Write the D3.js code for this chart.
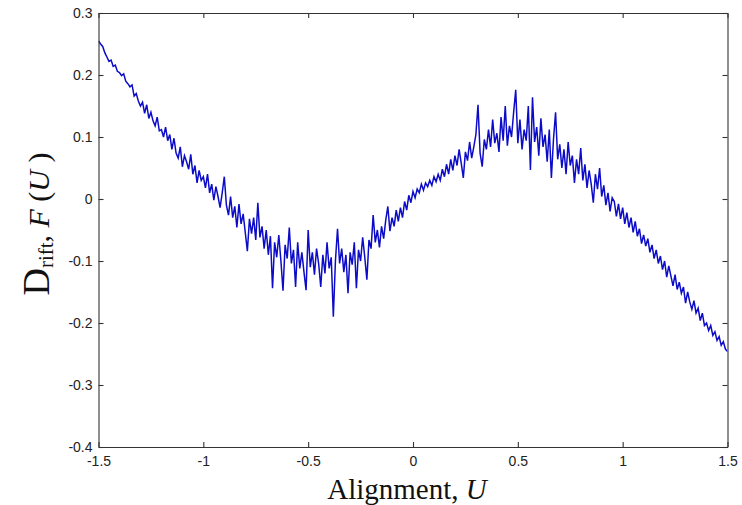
<!DOCTYPE html>
<html>
<head>
<meta charset="utf-8">
<script src="https://cdn.jsdelivr.net/npm/d3@7"></script>
<style>
  body { margin: 0; background: #fff; }
  svg { display: block; }
</style>
</head>
<body>
<svg id="chart" width="742" height="505"></svg>
<script>
// drift F(U), sampled every 0.01 in U, one array per half unit
const uStep = 0.01;
const segStarts = [-1.5, -1.0, -0.5, 0.0, 0.5, 1.0];

const driftA = [0.255, 0.250, 0.246, 0.236, 0.229, 0.222, 0.224, 0.214, 0.216, 0.206,
  0.204, 0.199, 0.202, 0.190, 0.186, 0.181, 0.184, 0.166, 0.170, 0.158,
  0.150, 0.156, 0.138, 0.152, 0.130, 0.140, 0.126, 0.118, 0.132, 0.110,
  0.112, 0.100, 0.116, 0.094, 0.104, 0.080, 0.098, 0.074, 0.066, 0.084,
  0.052, 0.070, 0.060, 0.048, 0.072, 0.040, 0.054, 0.026, 0.046, 0.030];

const driftB = [0.036, 0.018, 0.040, 0.010, 0.024, -0.002, 0.020, 0.004, -0.014, 0.010,
  0.036, -0.010, -0.026, 0.004, -0.030, -0.012, -0.046, -0.008, -0.040, -0.024,
  -0.054, -0.084, -0.032, -0.056, -0.030, -0.066, -0.006, -0.062, -0.044, -0.080,
  -0.050, -0.090, -0.060, -0.144, -0.070, -0.094, -0.058, -0.100, -0.148, -0.074,
  -0.096, -0.046, -0.104, -0.082, -0.142, -0.070, -0.112, -0.086, -0.118, -0.147];

const driftC = [-0.050, -0.110, -0.086, -0.122, -0.080, -0.104, -0.142, -0.090, -0.120, -0.070,
  -0.112, -0.094, -0.190, -0.100, -0.048, -0.104, -0.080, -0.118, -0.090, -0.152,
  -0.086, -0.106, -0.070, -0.144, -0.082, -0.100, -0.062, -0.094, -0.130, -0.066,
  -0.080, -0.026, -0.070, -0.050, -0.078, -0.044, -0.064, -0.034, -0.012, -0.052,
  -0.030, -0.044, -0.018, -0.036, -0.014, -0.030, -0.004, -0.018, 0.006, -0.006];

const driftD = [0.012, 0.002, 0.016, 0.010, 0.024, 0.014, 0.026, 0.020, 0.030, 0.022,
  0.036, 0.028, 0.040, 0.030, 0.048, 0.036, 0.056, 0.040, 0.064, 0.046,
  0.070, 0.054, 0.080, 0.058, 0.034, 0.076, 0.062, 0.092, 0.066, 0.084,
  0.104, 0.152, 0.074, 0.052, 0.096, 0.080, 0.112, 0.084, 0.128, 0.090,
  0.106, 0.076, 0.132, 0.094, 0.150, 0.086, 0.118, 0.100, 0.140, 0.176];

const driftE = [0.090, 0.128, 0.080, 0.112, 0.094, 0.150, 0.047, 0.164, 0.092, 0.116,
  0.070, 0.130, 0.084, 0.104, 0.060, 0.112, 0.034, 0.096, 0.140, 0.064,
  0.088, 0.050, 0.080, 0.040, 0.092, 0.054, 0.070, 0.026, 0.064, 0.040,
  0.082, 0.030, 0.056, 0.018, 0.046, 0.024, -0.006, 0.040, 0.016, 0.050,
  0.004, 0.022, -0.010, 0.010, -0.020, 0.002, -0.004, -0.028, -0.008, -0.032];

const driftF = [-0.014, -0.040, -0.022, -0.046, -0.030, -0.054, -0.036, -0.060, -0.048, -0.072,
  -0.058, -0.076, -0.064, -0.086, -0.074, -0.096, -0.082, -0.104, -0.092, -0.114,
  -0.100, -0.126, -0.108, -0.124, -0.140, -0.122, -0.146, -0.134, -0.152, -0.142,
  -0.168, -0.150, -0.166, -0.178, -0.164, -0.184, -0.176, -0.196, -0.184, -0.204,
  -0.200, -0.212, -0.204, -0.220, -0.214, -0.228, -0.222, -0.236, -0.230, -0.242,
  -0.246];

const xTicks = [-1.5, -1, -0.5, 0, 0.5, 1, 1.5];
const xTickLabels = ["-1.5", "-1", "-0.5", "0", "0.5", "1", "1.5"];
const yTicks = [-0.4, -0.3, -0.2, -0.1, 0, 0.1, 0.2, 0.3];
const yTickLabels = ["-0.4", "-0.3", "-0.2", "-0.1", "0", "0.1", "0.2", "0.3"];

const width = 742;
const height = 505;
const plot = { left: 98.5, right: 727.5, top: 13, bottom: 447 };

const points = [];
[driftA, driftB, driftC, driftD, driftE, driftF].forEach((seg, s) => {
  seg.forEach((v, i) => points.push({ u: segStarts[s] + i * uStep, v: v }));
});

const x = d3.scaleLinear().domain([-1.5, 1.5]).range([plot.left, plot.right]);
const y = d3.scaleLinear().domain([-0.4, 0.3]).range([plot.bottom, plot.top]);

const svg = d3.select("#chart");
svg.append("rect")
  .attr("width", width)
  .attr("height", height)
  .attr("fill", "#fff");

svg.append("defs")
  .append("clipPath")
  .attr("id", "plotclip")
  .append("rect")
  .attr("x", plot.left)
  .attr("y", plot.top)
  .attr("width", plot.right - plot.left)
  .attr("height", plot.bottom - plot.top);

// the drift curve
const line = d3.line()
  .x(d => x(d.u))
  .y(d => y(d.v));

svg.append("path")
  .datum(points)
  .attr("clip-path", "url(#plotclip)")
  .attr("d", line)
  .attr("fill", "none")
  .attr("stroke", "#0c0cc8")
  .attr("stroke-width", 1.5)
  .attr("stroke-linejoin", "miter");

// matlab style box, ticks pointing inwards on all four sides
const axisColor = "#333";
const tickFont = "'Liberation Sans', Arial, sans-serif";

const gx = svg.append("g")
  .attr("transform", `translate(0,${plot.bottom})`)
  .call(d3.axisBottom(x).tickValues(xTicks).tickFormat((d, i) => xTickLabels[i])
    .tickSizeInner(-5).tickSizeOuter(0).tickPadding(9));

const gy = svg.append("g")
  .attr("transform", `translate(${plot.left},0)`)
  .call(d3.axisLeft(y).tickValues(yTicks).tickFormat((d, i) => yTickLabels[i])
    .tickSizeInner(-5).tickSizeOuter(0).tickPadding(6));

const gt = svg.append("g")
  .attr("transform", `translate(0,${plot.top})`)
  .call(d3.axisTop(x).tickValues(xTicks).tickFormat("").tickSizeInner(-5).tickSizeOuter(0));

const gr = svg.append("g")
  .attr("transform", `translate(${plot.right},0)`)
  .call(d3.axisRight(y).tickValues(yTicks).tickFormat("").tickSizeInner(-5).tickSizeOuter(0));

[gx, gy, gt, gr].forEach(g => {
  g.selectAll("path, line").attr("stroke", axisColor).attr("stroke-width", 1.1);
  g.selectAll("text")
    .attr("fill", "#222")
    .style("font-family", tickFont)
    .style("font-size", "14px");
});

// axis titles
const serif = "'Liberation Serif', 'Times New Roman', serif";

const xTitle = svg.append("text")
  .attr("x", 407)
  .attr("y", 499)
  .attr("text-anchor", "middle")
  .attr("fill", "#111")
  .style("font-family", serif)
  .style("font-size", "29px");
xTitle.append("tspan").text("Alignment, ");
xTitle.append("tspan").style("font-style", "italic").text("U");

const yTitle = svg.append("text")
  .attr("transform", "translate(49,224) rotate(-90)")
  .attr("text-anchor", "middle")
  .attr("fill", "#111")
  .style("font-family", serif)
  .style("font-size", "30px");
yTitle.append("tspan").style("font-size", "38px").text("D");
yTitle.append("tspan").style("font-size", "21px").attr("dy", 4).text("rift");
yTitle.append("tspan").attr("dy", -4).text(", ");
yTitle.append("tspan").style("font-style", "italic").text("F");
yTitle.append("tspan").text(" (");
yTitle.append("tspan").style("font-style", "italic").text("U");
yTitle.append("tspan").text(" )");
</script>
</body>
</html>
